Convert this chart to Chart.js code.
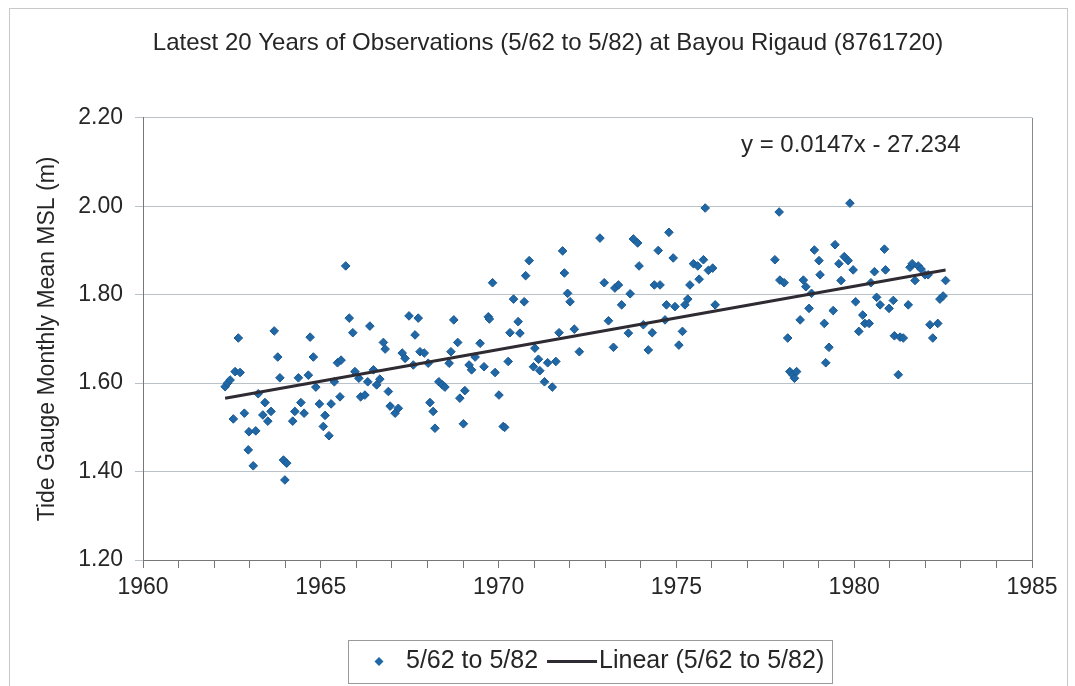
<!DOCTYPE html>
<html>
<head>
<meta charset="utf-8">
<title>Bayou Rigaud monthly mean MSL</title>
<script src="https://cdn.jsdelivr.net/npm/chart.js@4.4.1/dist/chart.umd.min.js"></script>
<style>
  html, body { margin: 0; padding: 0; background: #fff; }
  #wrap { width: 1075px; height: 686px; }
</style>
</head>
<body>
<div id="wrap"><canvas id="tideChart" width="1075" height="686"></canvas></div>
<script>
// monthly means (decimal year, metres)
const years = [
  1962.31, 1962.38, 1962.45, 1962.54, 1962.59, 1962.68, 1962.73, 1962.85, 1962.96, 1962.98,
  1963.10, 1963.17, 1963.24, 1963.37, 1963.43, 1963.51, 1963.60, 1963.69, 1963.79, 1963.85,
  1963.95, 1963.99, 1964.04, 1964.21, 1964.27, 1964.37, 1964.44, 1964.53, 1964.65, 1964.70,
  1964.79, 1964.86, 1964.96, 1965.07, 1965.12, 1965.23, 1965.29, 1965.38, 1965.47, 1965.54,
  1965.57, 1965.70, 1965.80, 1965.90, 1965.96, 1966.07, 1966.12, 1966.24, 1966.32, 1966.38,
  1966.48, 1966.57, 1966.66, 1966.76, 1966.81, 1966.90, 1966.95, 1967.09, 1967.18, 1967.29,
  1967.37, 1967.48, 1967.60, 1967.65, 1967.74, 1967.79, 1967.91, 1968.02, 1968.07, 1968.16,
  1968.21, 1968.32, 1968.42, 1968.49, 1968.61, 1968.66, 1968.74, 1968.85, 1968.91, 1969.01,
  1969.05, 1969.17, 1969.24, 1969.34, 1969.48, 1969.59, 1969.71, 1969.74, 1969.83, 1969.90,
  1970.01, 1970.13, 1970.17, 1970.27, 1970.32, 1970.42, 1970.55, 1970.60, 1970.72, 1970.76,
  1970.86, 1970.98, 1971.02, 1971.12, 1971.16, 1971.29, 1971.38, 1971.51, 1971.61, 1971.70,
  1971.80, 1971.85, 1971.94, 1972.01, 1972.13, 1972.27, 1972.85, 1972.97, 1973.09, 1973.23,
  1973.27, 1973.37, 1973.46, 1973.65, 1973.70, 1973.79, 1973.91, 1973.95, 1974.07, 1974.21,
  1974.32, 1974.38, 1974.49, 1974.54, 1974.68, 1974.72, 1974.79, 1974.91, 1974.96, 1975.07,
  1975.17, 1975.24, 1975.32, 1975.38, 1975.48, 1975.60, 1975.64, 1975.76, 1975.81, 1975.90,
  1976.02, 1976.09, 1977.77, 1977.89, 1977.91, 1978.03, 1978.13, 1978.19, 1978.27, 1978.32,
  1978.38, 1978.48, 1978.57, 1978.64, 1978.73, 1978.80, 1978.88, 1979.01, 1979.04, 1979.16,
  1979.20, 1979.29, 1979.41, 1979.46, 1979.57, 1979.63, 1979.72, 1979.83, 1979.88, 1979.97,
  1980.04, 1980.13, 1980.24, 1980.30, 1980.42, 1980.47, 1980.57, 1980.63, 1980.73, 1980.85,
  1980.88, 1980.98, 1981.10, 1981.13, 1981.24, 1981.29, 1981.38, 1981.52, 1981.57, 1981.63,
  1981.71, 1981.80, 1981.88, 1981.99, 1982.08, 1982.13, 1982.21, 1982.35, 1982.41, 1982.50,
  1982.57
];
const msl = [
  1.592, 1.600, 1.607, 1.519, 1.626, 1.702, 1.624, 1.532, 1.449, 1.490,
  1.413, 1.492, 1.576, 1.528, 1.556, 1.514, 1.536, 1.718, 1.659, 1.612,
  1.426, 1.381, 1.419, 1.514, 1.536, 1.612, 1.556, 1.532, 1.618, 1.704,
  1.659, 1.591, 1.553, 1.502, 1.527, 1.481, 1.553, 1.603, 1.646, 1.569,
  1.652, 1.865, 1.747, 1.714, 1.626, 1.611, 1.569, 1.573, 1.603, 1.729,
  1.630, 1.596, 1.609, 1.692, 1.677, 1.581, 1.548, 1.532, 1.543, 1.668,
  1.656, 1.752, 1.641, 1.709, 1.747, 1.671, 1.668, 1.645, 1.556, 1.536,
  1.498, 1.603, 1.596, 1.591, 1.645, 1.671, 1.743, 1.692, 1.566, 1.508,
  1.583, 1.641, 1.630, 1.659, 1.690, 1.637, 1.750, 1.745, 1.827, 1.624,
  1.573, 1.502, 1.500, 1.649, 1.714, 1.790, 1.739, 1.713, 1.784, 1.843,
  1.877, 1.637, 1.679, 1.654, 1.628, 1.603, 1.646, 1.591, 1.649, 1.714,
  1.899, 1.849, 1.803, 1.784, 1.722, 1.671, 1.928, 1.827, 1.741, 1.681,
  1.815, 1.822, 1.777, 1.713, 1.802, 1.926, 1.917, 1.865, 1.732, 1.675,
  1.714, 1.822, 1.900, 1.822, 1.743, 1.777, 1.941, 1.883, 1.773, 1.686,
  1.717, 1.777, 1.790, 1.822, 1.870, 1.865, 1.835, 1.879, 1.996, 1.855,
  1.860, 1.777, 1.879, 1.987, 1.833, 1.827, 1.702, 1.626, 1.619, 1.611,
  1.626, 1.743, 1.833, 1.818, 1.769, 1.803, 1.901, 1.877, 1.845, 1.735,
  1.646, 1.681, 1.764, 1.913, 1.870, 1.832, 1.886, 1.877, 2.007, 1.856,
  1.784, 1.717, 1.754, 1.735, 1.735, 1.827, 1.852, 1.794, 1.777, 1.903,
  1.856, 1.769, 1.787, 1.707, 1.619, 1.704, 1.702, 1.777, 1.862, 1.870,
  1.832, 1.865, 1.858, 1.845, 1.845, 1.732, 1.702, 1.735, 1.790, 1.797,
  1.832
];

const seriesLabel = "5/62 to 5/82";
const trendLabel = "Linear (5/62 to 5/82)";
const chartTitle = "Latest 20 Years of Observations (5/62 to 5/82) at Bayou Rigaud (8761720)";
const yAxisTitle = "Tide Gauge Monthly Mean MSL (m)";
const equationText = "y = 0.0147x - 27.234";

const FONT = "'Liberation Sans', Arial, sans-serif";
const TEXT_COLOR = "#262626";
const POINT_COLOR = "#2067a6";
const TREND_COLOR = "#2f2b33";

const points = years.map(function(yr, i) {
  return { x: yr, y: msl[i] };
});

// least squares fit, drawn over the span of the data like the spreadsheet trendline
function linearFit(xs, ys) {
  const n = xs.length;
  let sx = 0, sy = 0, sxx = 0, sxy = 0;
  for (let i = 0; i < n; i++) {
    sx += xs[i]; sy += ys[i];
    sxx += xs[i] * xs[i]; sxy += xs[i] * ys[i];
  }
  const slope = (n * sxy - sx * sy) / (n * sxx - sx * sx);
  const intercept = (sy - slope * sx) / n;
  return { slope: slope, intercept: intercept };
}

const fit = linearFit(years, msl);
const xFirst = Math.min(...years);
const xLast = Math.max(...years);
const trendPoints = [
  { x: xFirst, y: fit.intercept + fit.slope * xFirst },
  { x: xLast, y: fit.intercept + fit.slope * xLast }
];

const decorations = {
  id: "decorations",
  beforeDraw(chart) {
    const ctx = chart.ctx;
    ctx.save();
    ctx.fillStyle = "#fff";
    ctx.fillRect(0, 0, chart.width, chart.height);
    ctx.restore();
  },
  afterDraw(chart) {
    const ctx = chart.ctx;
    const area = chart.chartArea;
    ctx.save();

    // outer frame of the sheet
    ctx.strokeStyle = "#c8c8c8";
    ctx.lineWidth = 1;
    ctx.strokeRect(9.5, 8.5, 1058, 700);

    // right edge of the plot area
    ctx.strokeStyle = "#8a8a8a";
    ctx.beginPath();
    ctx.moveTo(Math.round(area.right) + 0.5, area.top);
    ctx.lineTo(Math.round(area.right) + 0.5, area.bottom);
    ctx.stroke();

    // trendline equation
    ctx.fillStyle = TEXT_COLOR;
    ctx.font = "24px " + FONT;
    ctx.textBaseline = "middle";
    ctx.textAlign = "left";
    ctx.fillText(equationText, 741, 145);

    // legend box
    const boxLeft = 348, boxTop = 640, boxW = 484, boxH = 43;
    const midY = boxTop + boxH / 2;
    ctx.strokeStyle = "#9a9a9a";
    ctx.strokeRect(boxLeft + 0.5, boxTop + 0.5, boxW, boxH);

    ctx.fillStyle = POINT_COLOR;
    ctx.beginPath();
    ctx.moveTo(379, midY - 4.5);
    ctx.lineTo(383.5, midY);
    ctx.lineTo(379, midY + 4.5);
    ctx.lineTo(374.5, midY);
    ctx.closePath();
    ctx.fill();

    ctx.font = "25px " + FONT;
    ctx.fillStyle = TEXT_COLOR;
    ctx.fillText(seriesLabel, 406, midY);
    const w1 = ctx.measureText(seriesLabel).width;

    const lineStart = 406 + w1 + 9;
    ctx.strokeStyle = TREND_COLOR;
    ctx.lineWidth = 3;
    ctx.beginPath();
    ctx.moveTo(lineStart, midY);
    ctx.lineTo(lineStart + 50, midY);
    ctx.stroke();

    ctx.fillText(trendLabel, lineStart + 52, midY);
    ctx.restore();
  }
};

const ctx = document.getElementById("tideChart").getContext("2d");

new Chart(ctx, {
  type: "scatter",
  data: {
    datasets: [
      {
        type: "line",
        label: trendLabel,
        data: trendPoints,
        borderColor: TREND_COLOR,
        borderWidth: 3,
        pointRadius: 0,
        fill: false,
        order: 0
      },
      {
        label: seriesLabel,
        data: points,
        pointStyle: "rectRot",
        pointRadius: 4.3,
        backgroundColor: POINT_COLOR,
        borderColor: "#1b5a93",
        borderWidth: 1,
        order: 1
      }
    ]
  },
  options: {
    responsive: false,
    animation: false,
    layout: {
      padding: { left: 21, right: 0, top: 0, bottom: 66 }
    },
    plugins: {
      legend: { display: false },
      tooltip: { enabled: false },
      title: {
        display: true,
        text: chartTitle,
        color: TEXT_COLOR,
        font: { family: FONT, size: 24, weight: "normal" },
        padding: { top: 29, bottom: 60 }
      }
    },
    scales: {
      x: {
        type: "linear",
        min: 1960,
        max: 1985,
        afterFit: function(scale) {
          scale.height = 60;
        },
        ticks: {
          stepSize: 1,
          autoSkip: false,
          maxRotation: 0,
          color: TEXT_COLOR,
          font: { family: FONT, size: 23 },
          padding: 6,
          callback: function(value) {
            return value % 5 === 0 ? String(value) : "";
          }
        },
        grid: {
          drawOnChartArea: false,
          drawTicks: true,
          tickLength: 8,
          color: "#777"
        },
        border: { color: "#777" }
      },
      y: {
        min: 1.2,
        max: 2.2,
        afterFit: function(scale) {
          scale.width = 122;
        },
        ticks: {
          stepSize: 0.2,
          color: TEXT_COLOR,
          font: { family: FONT, size: 23 },
          padding: 12,
          callback: function(value) {
            return value.toFixed(2);
          }
        },
        grid: {
          color: "#b9c2c9",
          tickLength: 8
        },
        border: { color: "#777" },
        title: {
          display: true,
          text: yAxisTitle,
          color: TEXT_COLOR,
          font: { family: FONT, size: 23 },
          padding: { top: 13, bottom: 0 }
        }
      },
      // empty axis that only keeps the right margin free
      yRight: {
        position: "right",
        min: 1.2,
        max: 2.2,
        afterFit: function(scale) {
          scale.width = 43;
        },
        ticks: { display: false },
        grid: { display: false },
        border: { display: false }
      }
    }
  },
  plugins: [decorations]
});
</script>
</body>
</html>
